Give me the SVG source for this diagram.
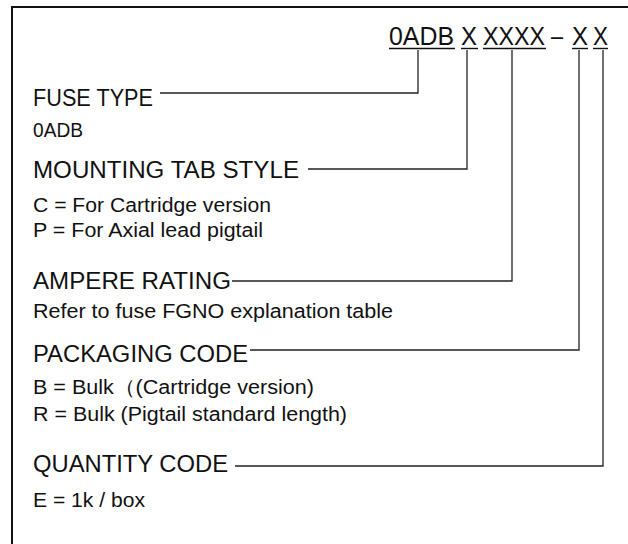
<svg xmlns="http://www.w3.org/2000/svg" width="628" height="544" viewBox="0 0 628 544">
<style>
text{font-family:"Liberation Sans",Arial,sans-serif;fill:#111}
.t{font-size:25.5px}
.h{font-size:23px}
.b{font-size:20px}
.c{stroke:#222;stroke-width:1.3;fill:none}
.u{stroke:#111;stroke-width:1.4}
</style>
<rect x="0" y="0" width="628" height="544" fill="#fff"/>
<rect id="frame" x="12" y="7" width="700" height="600" fill="none" stroke="#111" stroke-width="2"/>
<g id="title">
<text class="t" x="389" y="45" textLength="65" lengthAdjust="spacingAndGlyphs">0ADB</text>
<text class="t" x="461" y="45" textLength="16" lengthAdjust="spacingAndGlyphs">X</text>
<text class="t" x="483" y="45" textLength="62" lengthAdjust="spacingAndGlyphs">XXXX</text>
<text class="t" x="551" y="45" textLength="12" lengthAdjust="spacingAndGlyphs">–</text>
<text class="t" x="572" y="45" textLength="16" lengthAdjust="spacingAndGlyphs">X</text>
<text class="t" x="593" y="45" textLength="15" lengthAdjust="spacingAndGlyphs">X</text>
<line class="u" x1="389" y1="48.5" x2="455" y2="48.5"/>
<line class="u" x1="461" y1="48.5" x2="478" y2="48.5"/>
<line class="u" x1="483" y1="48.5" x2="546" y2="48.5"/>
<line class="u" x1="572" y1="48.5" x2="588" y2="48.5"/>
<line class="u" x1="593" y1="48.5" x2="608" y2="48.5"/>
</g>
<g id="fuse-type">
<text class="h" x="33" y="106" textLength="120" lengthAdjust="spacingAndGlyphs">FUSE TYPE</text>
<text class="b" x="33" y="137" textLength="50" lengthAdjust="spacingAndGlyphs">0ADB</text>
</g>
<g id="mounting-tab-style">
<text class="h" x="33" y="178" textLength="266" lengthAdjust="spacingAndGlyphs">MOUNTING TAB STYLE</text>
<text class="b" x="33" y="212" textLength="238" lengthAdjust="spacingAndGlyphs">C = For Cartridge version</text>
<text class="b" x="33" y="237" textLength="230" lengthAdjust="spacingAndGlyphs">P = For Axial lead pigtail</text>
</g>
<g id="ampere-rating">
<text class="h" x="33" y="289" textLength="198" lengthAdjust="spacingAndGlyphs">AMPERE RATING</text>
<text class="b" x="33" y="318" textLength="360" lengthAdjust="spacingAndGlyphs">Refer to fuse FGNO explanation table</text>
</g>
<g id="packaging-code">
<text class="h" x="33" y="362" textLength="215" lengthAdjust="spacingAndGlyphs">PACKAGING CODE</text>
<text class="b" x="33" y="394" textLength="281" lengthAdjust="spacingAndGlyphs">B = Bulk（(Cartridge version)</text>
<text class="b" x="33" y="421" textLength="314" lengthAdjust="spacingAndGlyphs">R = Bulk (Pigtail standard length)</text>
</g>
<g id="quantity-code">
<text class="h" x="33" y="472" textLength="195" lengthAdjust="spacingAndGlyphs">QUANTITY CODE</text>
<text class="b" x="33" y="507" textLength="112" lengthAdjust="spacingAndGlyphs">E = 1k / box</text>
</g>
<g id="connectors">
<polyline class="c" points="160,93 418,93 418,50"/>
<polyline class="c" points="308,169 467,169 467,50"/>
<polyline class="c" points="232,281 512,281 512,50"/>
<polyline class="c" points="250,350 579,350 579,50"/>
<polyline class="c" points="235,466 603,466 603,50"/>
</g>
</svg>
